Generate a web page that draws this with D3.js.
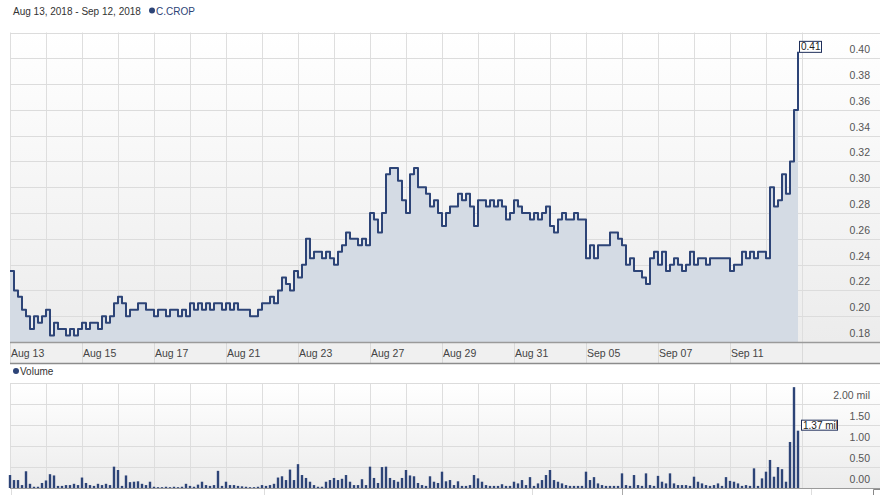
<!DOCTYPE html>
<html>
<head>
<meta charset="utf-8">
<script src="https://cdn.jsdelivr.net/npm/d3@7/dist/d3.min.js"></script>
<style>
  html, body { margin: 0; padding: 0; background: #ffffff; }
  svg { display: block; font-family: "Liberation Sans", Arial, sans-serif; }
</style>
</head>
<body>
<svg id="chart" width="884" height="495"></svg>
<script>
// ---------------- DATA ----------------
const title = "Aug 13, 2018 - Sep 12, 2018";
const symbol = "C.CROP";
const tradingDays = ["Aug 13","Aug 14","Aug 15","Aug 16","Aug 17","Aug 20","Aug 21","Aug 22",
  "Aug 23","Aug 24","Aug 27","Aug 28","Aug 29","Aug 30","Aug 31","Sep 04","Sep 05","Sep 06",
  "Sep 07","Sep 10","Sep 11","Sep 12"];
const xTickLabels = ["Aug 13","Aug 15","Aug 17","Aug 21","Aug 23","Aug 27","Aug 29","Aug 31","Sep 05","Sep 07","Sep 11"];
const pointsPerDay = 9;
// intraday price samples (9 per trading day)
const price = [
  0.235,0.22,0.215,0.205,0.20,0.19,0.20,0.195,0.20,
  0.205,0.185,0.195,0.19,0.19,0.185,0.19,0.185,0.19,
  0.195,0.19,0.195,0.195,0.19,0.20,0.195,0.20,0.21,
  0.215,0.21,0.20,0.205,0.205,0.21,0.21,0.205,0.205,
  0.20,0.205,0.205,0.20,0.205,0.205,0.20,0.205,0.20,
  0.21,0.205,0.21,0.205,0.21,0.205,0.21,0.21,0.205,
  0.21,0.205,0.21,0.205,0.205,0.205,0.20,0.20,0.205,
  0.21,0.21,0.215,0.21,0.22,0.23,0.225,0.22,0.235,
  0.23,0.24,0.26,0.245,0.25,0.25,0.245,0.25,0.245,
  0.24,0.25,0.255,0.265,0.26,0.26,0.255,0.26,0.255,
  0.28,0.275,0.265,0.28,0.31,0.315,0.315,0.305,0.29,
  0.28,0.31,0.315,0.30,0.30,0.295,0.285,0.29,0.28,
  0.27,0.28,0.285,0.285,0.295,0.29,0.295,0.285,0.27,
  0.29,0.29,0.285,0.29,0.285,0.29,0.285,0.275,0.28,
  0.29,0.285,0.28,0.28,0.275,0.28,0.275,0.28,0.285,
  0.27,0.265,0.275,0.28,0.275,0.275,0.28,0.275,0.275,
  0.245,0.255,0.245,0.255,0.255,0.255,0.265,0.265,0.26,
  0.255,0.24,0.245,0.235,0.235,0.23,0.225,0.245,0.25,
  0.24,0.25,0.235,0.24,0.245,0.24,0.235,0.24,0.25,
  0.24,0.245,0.245,0.24,0.245,0.245,0.245,0.245,0.245,
  0.235,0.24,0.24,0.25,0.245,0.25,0.245,0.25,0.25,
  0.245,0.30,0.285,0.29,0.31,0.295,0.32,0.36,0.405
];
// intraday volume samples, millions (same sampling)
const volume = [
  0.31,0.19,0.19,0.07,0.40,0.10,0.03,0.03,0.12,
  0.18,0.33,0.30,0.05,0.05,0.07,0.07,0.10,0.07,
  0.25,0.12,0.07,0.05,0.10,0.07,0.10,0.07,0.51,
  0.43,0.05,0.30,0.14,0.15,0.16,0.10,0.07,0.15,
  0.03,0.02,0.02,0.03,0.02,0.03,0.02,0.03,0.10,
  0.05,0.03,0.08,0.15,0.07,0.05,0.07,0.41,0.05,
  0.15,0.07,0.07,0.05,0.04,0.03,0.02,0.02,0.03,
  0.07,0.05,0.07,0.10,0.25,0.28,0.19,0.44,0.19,
  0.57,0.31,0.24,0.15,0.07,0.03,0.03,0.15,0.19,
  0.24,0.19,0.22,0.31,0.15,0.07,0.07,0.21,0.07,
  0.51,0.24,0.12,0.50,0.51,0.24,0.19,0.15,0.24,
  0.43,0.30,0.28,0.12,0.07,0.05,0.28,0.15,0.12,
  0.39,0.16,0.19,0.07,0.16,0.05,0.05,0.07,0.31,
  0.23,0.15,0.07,0.05,0.05,0.05,0.09,0.05,0.05,
  0.15,0.11,0.19,0.07,0.26,0.05,0.11,0.19,0.31,
  0.43,0.19,0.15,0.11,0.07,0.05,0.05,0.05,0.05,
  0.39,0.19,0.26,0.11,0.07,0.05,0.05,0.05,0.05,
  0.35,0.07,0.05,0.31,0.07,0.05,0.35,0.07,0.05,
  0.29,0.15,0.11,0.35,0.11,0.07,0.07,0.07,0.05,
  0.27,0.15,0.11,0.07,0.05,0.07,0.11,0.05,0.26,
  0.17,0.15,0.11,0.05,0.07,0.05,0.47,0.05,0.23,
  0.39,0.67,0.27,0.50,0.45,0.15,1.10,2.41,1.37
];
const priceTicks = [0.18,0.20,0.22,0.24,0.26,0.28,0.30,0.32,0.34,0.36,0.38,0.40];
const volumeTicks = [0, 0.5, 1.0, 1.5, 2.0];
const lastPriceLabel = "0.41";
const lastVolumeLabel = "1.37 mil";

// ---------------- LAYOUT ----------------
const svg = d3.select("#chart");
const L = 10, R = 802, FULLR = 880;
const navy = "#2d4477";

const x = d3.scaleLinear().domain([0, tradingDays.length]).range([L, R]);
const yP = d3.scaleLinear().domain([0.18, 0.42]).range([342, 32.5]);
const yV = d3.scaleLinear().domain([0, 2.5]).range([488, 383.4]);

const defs = svg.append("defs");
const grad = defs.append("linearGradient").attr("id", "bg").attr("x1", 0).attr("y1", 0).attr("x2", 0).attr("y2", 1);
grad.append("stop").attr("offset", "0%").attr("stop-color", "#ffffff");
grad.append("stop").attr("offset", "100%").attr("stop-color", "#ececec");

// header
svg.append("text").attr("x", 13).attr("y", 14.5).attr("font-size", 10).attr("fill", "#333").text(title);
svg.append("circle").attr("cx", 152).attr("cy", 10.5).attr("r", 3).attr("fill", navy);
svg.append("text").attr("x", 156).attr("y", 14.5).attr("font-size", 10).attr("fill", navy).text(symbol);

// ---------- price panel ----------
const pTop = yP(0.42), pBot = yP(0.18);
svg.append("rect").attr("x", L).attr("y", pTop).attr("width", FULLR - L).attr("height", pBot - pTop).attr("fill", "url(#bg)");

const dayIdx = d3.range(0, tradingDays.length + 1);
svg.append("g").selectAll("line").data(dayIdx).join("line")
  .attr("x1", d => x(d) + 0.5).attr("x2", d => x(d) + 0.5)
  .attr("y1", pTop).attr("y2", pBot).attr("stroke", "#dedede");
const pGridVals = priceTicks.concat([0.42]);
svg.append("g").selectAll("line").data(pGridVals).join("line")
  .attr("x1", L).attr("x2", FULLR)
  .attr("y1", d => Math.round(yP(d)) + 0.5).attr("y2", d => Math.round(yP(d)) + 0.5)
  .attr("stroke", "#dcdcdc");

const pts = price.map((v, i) => ({ t: i / pointsPerDay, v }));
svg.append("path").datum(pts)
  .attr("d", d3.area().curve(d3.curveStepAfter).x(d => x(d.t)).y0(pBot).y1(d => yP(d.v)))
  .attr("fill", "#d4dbe4");
svg.append("path").datum(pts)
  .attr("d", d3.line().curve(d3.curveStepAfter).x(d => x(d.t)).y(d => yP(d.v)))
  .attr("fill", "none").attr("stroke", navy).attr("stroke-width", 2).attr("stroke-linejoin", "round");

svg.append("g").selectAll("text").data(priceTicks).join("text")
  .attr("x", 870).attr("y", d => yP(d) - 5).attr("text-anchor", "end")
  .attr("font-size", 10.5).attr("fill", "#555").text(d => d.toFixed(2));

const lastP = price[price.length - 1];
const lpY = yP(lastP);
svg.append("rect").attr("x", 799.5).attr("y", lpY - 10.5).attr("width", 22).attr("height", 11)
  .attr("fill", "#fff").attr("stroke", "#1f2f5a").attr("stroke-width", 1);
svg.append("text").attr("x", 801).attr("y", lpY - 1.5).attr("font-size", 10).attr("fill", "#222").text(lastPriceLabel);

// x axis strip
svg.append("rect").attr("x", L).attr("y", pBot).attr("width", FULLR - L).attr("height", 21).attr("fill", "#f0f0f0");
svg.append("g").selectAll("line").data(d3.range(0, tradingDays.length + 1, 2)).join("line")
  .attr("x1", d => x(d) + 0.5).attr("x2", d => x(d) + 0.5)
  .attr("y1", pBot).attr("y2", pBot + 21).attr("stroke", "#dadada");
svg.append("line").attr("x1", L).attr("x2", FULLR).attr("y1", pBot + 0.5).attr("y2", pBot + 0.5).attr("stroke", "#9a9a9a").attr("stroke-width", 1.5);
svg.append("line").attr("x1", L).attr("x2", FULLR).attr("y1", pBot + 21.5).attr("y2", pBot + 21.5).attr("stroke", "#8c8c8c").attr("stroke-width", 1.5);
svg.append("g").selectAll("text").data(xTickLabels).join("text")
  .attr("x", (d) => x(tradingDays.indexOf(d)) + 1).attr("y", pBot + 14.5)
  .attr("font-size", 10.5).attr("fill", "#444").text(d => d);

// ---------- volume panel ----------
svg.append("circle").attr("cx", 16).attr("cy", 371).attr("r", 3).attr("fill", navy);
svg.append("text").attr("x", 20).attr("y", 374.5).attr("font-size", 10).attr("fill", "#333").text("Volume");

const vTop = yV(2.5), vBot = yV(0);
svg.append("rect").attr("x", L).attr("y", vTop).attr("width", FULLR - L).attr("height", vBot - vTop).attr("fill", "url(#bg)");
svg.append("g").selectAll("line").data(dayIdx).join("line")
  .attr("x1", d => x(d) + 0.5).attr("x2", d => x(d) + 0.5)
  .attr("y1", vTop).attr("y2", vBot).attr("stroke", "#dedede");
svg.append("g").selectAll("line").data(volumeTicks.concat([2.5])).join("line")
  .attr("x1", L).attr("x2", FULLR)
  .attr("y1", d => Math.round(yV(d)) + 0.5).attr("y2", d => Math.round(yV(d)) + 0.5)
  .attr("stroke", "#dcdcdc");

const bw = 2.4;
svg.append("g").selectAll("rect").data(volume).join("rect")
  .attr("x", (d, i) => x(i / pointsPerDay) - bw / 2)
  .attr("width", bw)
  .attr("y", d => yV(d))
  .attr("height", d => vBot - yV(d))
  .attr("fill", navy);

svg.append("line").attr("x1", L).attr("x2", FULLR).attr("y1", vBot + 0.5).attr("y2", vBot + 0.5).attr("stroke", "#9a9a9a").attr("stroke-width", 1);

svg.append("g").selectAll("text").data(volumeTicks).join("text")
  .attr("x", 870).attr("y", d => yV(d) - 5).attr("text-anchor", "end")
  .attr("font-size", 10.5).attr("fill", "#555").text(d => d === 2 ? "2.00 mil" : d.toFixed(2));

const lastV = volume[volume.length - 1];
const lvY = yV(lastV);
svg.append("rect").attr("x", 801.5).attr("y", lvY - 10.5).attr("width", 36).attr("height", 10)
  .attr("fill", "#fff").attr("stroke", "#1f2f5a").attr("stroke-width", 1);
svg.append("text").attr("x", 803).attr("y", lvY - 2).attr("font-size", 10).attr("fill", "#222").text(lastVolumeLabel);

// bottom stub ticks (navigator edge)
const stubX = [11, 264, 532, 811];
svg.append("g").selectAll("line").data(stubX).join("line")
  .attr("x1", d => d + 0.5).attr("x2", d => d + 0.5).attr("y1", vBot + 1).attr("y2", 495).attr("stroke", "#dddddd");
svg.append("line").attr("x1", 622.5).attr("x2", 622.5).attr("y1", vBot + 1).attr("y2", 495).attr("stroke", "#aaaaaa");
svg.append("path").attr("d", "M873.5,495V489.5H880").attr("fill", "none").attr("stroke", "#888");
</script>
</body>
</html>
